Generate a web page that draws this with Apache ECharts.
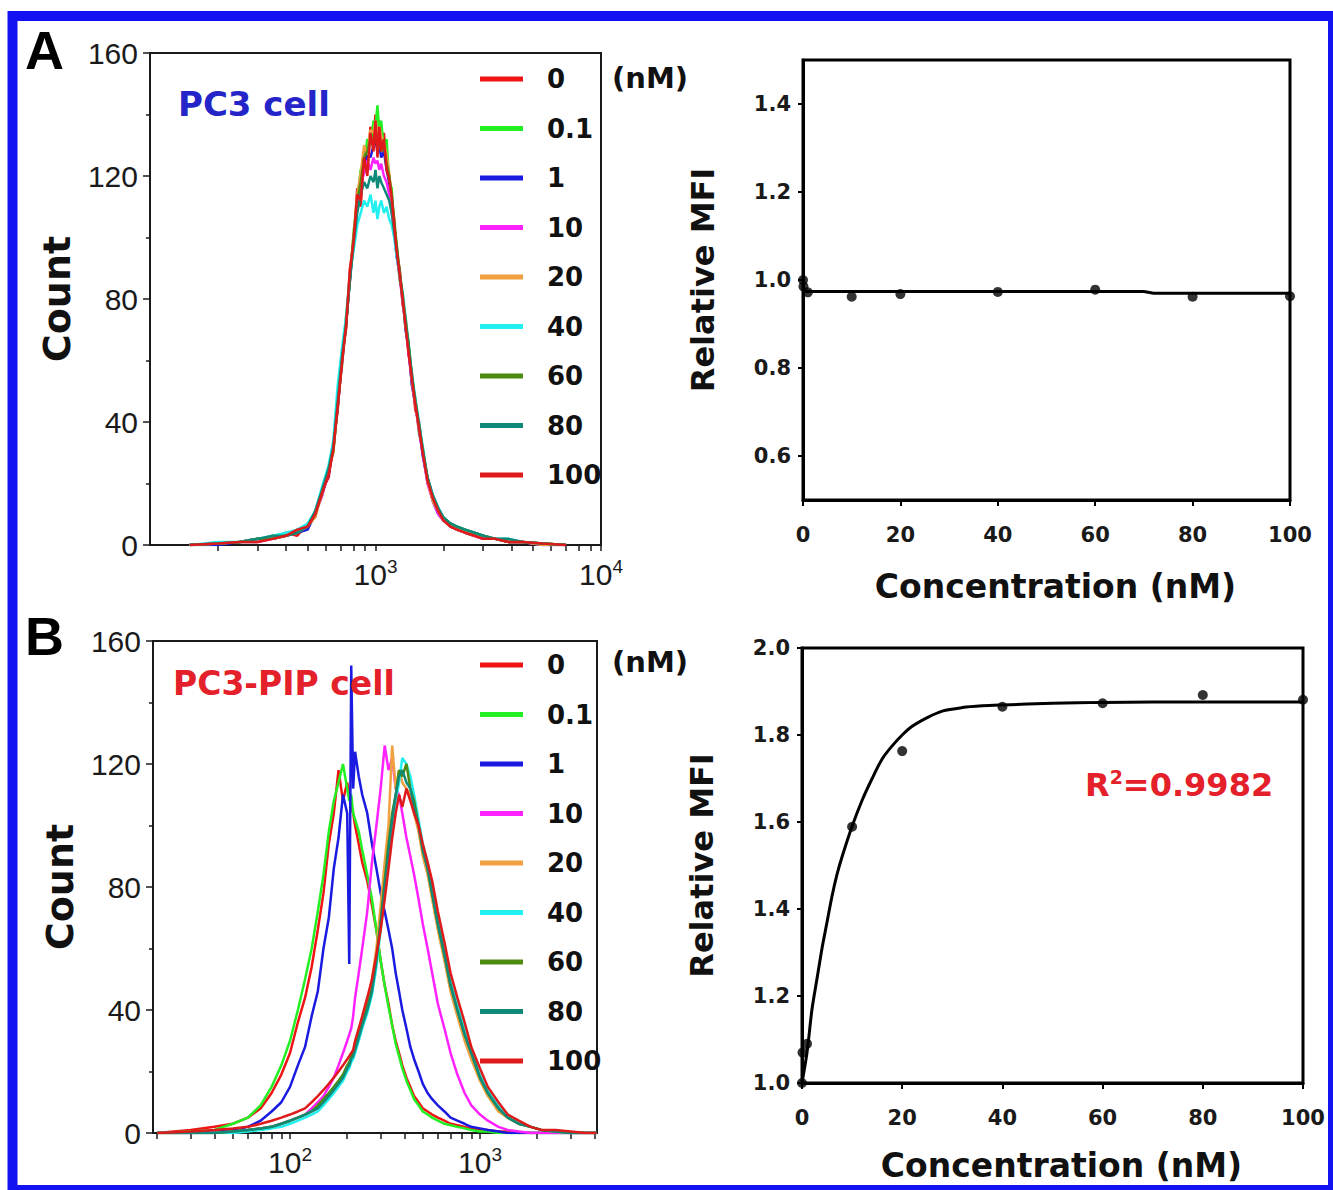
<!DOCTYPE html>
<html><head><meta charset="utf-8">
<script src="https://cdn.jsdelivr.net/npm/echarts@6/dist/echarts.min.js"></script>
<style>html,body{margin:0;padding:0;background:#fff}#c{width:1333px;height:1190px}</style>
</head><body><div id="c"></div>
<script>
// ---------- data ----------
const concLabels = ['0', '0.1', '1', '10', '20', '40', '60', '80', '100'];
const lineColors = ['#f01414', '#22f022', '#1a1ae0', '#ff22ff', '#f0a040', '#22f0f0', '#4c8a10', '#108a78', '#de1a1a'];

// Panel A histogram (PC3 cell), fluorescence channel (log scale) vs count
const histA_x = [150,200,250,300,350,400,450,500,540,580, 620,650,680,710,740,770,800,830,860,890, 920,950,980,1000,1020,1040,1060,1090,1120,1150, 1180,1210,1240,1280,1320,1360,1400,1450,1500,1560, 1620,1700,1800,1900,2000,2150,2300,2500,2750,3000, 3400,3900,4500,5500,7000];
const histA_0nM   = [0,0.5,1,2,2,4,3,7,9,18, 22,33,44,62,70,90,98,116,110,128, 124,136,132,140,128,138,130,134,124,120, 112,106,94,90,78,74,62,56,44,40, 30,22,15,11,8,6,5,4,3,2, 2,1,1,0.5,0];
const histA_01nM  = [0,0.5,1,1,3,3,5,6,11,16, 25,30,47,58,74,86,102,112,122,124, 132,130,138,136,143,134,138,128,132,118, 116,102,98,86,82,70,66,52,48,36, 32,20,16,10,9,6,6,4,3,3, 2,1,1,0.5,0];
const histA_1nM   = [0,0,1,2,2,3,4,5,10,17, 23,32,45,60,72,86,100,110,118,122, 128,126,130,132,128,130,126,128,122,118, 110,104,94,88,80,70,64,52,46,38, 29,21,14,10,8,6,5,4,3,3, 2,1,1,0,0];
const histA_10nM  = [0,0.5,1,1,2,3,4,6,10,16, 24,31,46,59,72,88,99,110,117,121, 125,122,126,124,125,122,124,120,118,114, 108,102,95,87,79,72,63,53,46,37, 30,20,14,10,8,6,5,4,3,2, 2,1,1,0,0];
const histA_20nM  = [0,0.5,1,2,2,3,4,6,9,17, 25,30,46,61,73,88,101,114,121,130, 127,135,134,138,132,136,133,131,127,121, 113,104,97,88,80,71,65,54,46,38, 31,21,14,11,8,6,5,4,3,3, 2,1,1,0,0];
const histA_40nM  = [0,1,1,2,3,4,5,7,11,19, 26,34,52,64,74,88,96,104,108,112, 110,114,108,112,106,110,112,108,110,106, 104,100,94,88,82,74,66,56,48,40, 32,22,16,12,9,7,6,5,4,3, 2,2,1,0.5,0];
const histA_60nM  = [0,0.5,1,2,2,3,4,6,10,17, 24,31,45,60,71,87,100,112,118,126, 128,132,130,134,130,132,128,130,124,120, 114,106,98,89,81,73,66,55,47,39, 31,22,15,11,9,7,6,5,4,3, 2,1,1,0.5,0];
const histA_80nM  = [0,0.5,1,2,3,3,4,6,11,18, 25,32,47,61,72,86,98,108,114,118, 116,120,118,122,116,120,118,116,114,112, 108,102,96,88,80,72,65,55,47,39, 31,22,16,12,9,7,6,5,4,3, 2,2,1,0.5,0];
const histA_100nM = [0,0.5,1,1,2,3,5,6,10,17, 23,31,45,59,71,89,99,114,112,126, 120,134,128,138,126,136,128,132,122,119, 113,104,96,88,80,71,63,54,46,38, 30,21,15,11,8,6,5,4,3,2, 2,1,1,0.5,0];

// Panel B histogram (PC3-PIP cell)
const histB_x = [20,30,40,50,60,70,80,90,100,110, 120,130,140,150,160,170,180,190,200,205, 210,215,220,230,240,255,270,285,300,315, 330,345,360,375,390,410,430,450,475,500, 530,560,600,650,700,760,830,900,1000,1100, 1250,1400,1600,1850,2100,2500,3000,3600,4100];
const histB_0nM   = [0,1,2,3,5,8,13,19,26,36, 44,54,66,78,94,104,118,108,114,110, 106,104,100,94,88,82,74,66,56,48, 42,35,30,26,22,18,15,12,10,8, 7,6,5,4,3,2.5,2,1.5,1,1, 0.5,0.5,0,0,0,0,0,0,0];
const histB_01nM  = [0,0.5,1,3,5,9,15,22,30,40, 50,60,72,84,98,108,114,120,112,108, 110,104,102,98,92,84,76,66,56,48, 41,35,29,25,21,17,14,11,9,7, 6,5,4,3,2.5,2,1.5,1,0.5,0.5, 0,0,0,0,0,0,0,0,0];
const histB_1nM   = [0,0,0.5,1,2,4,7,10,15,22, 28,38,46,60,70,86,96,110,104,55, 152,112,124,116,110,104,94,86,78,72, 66,60,52,46,40,34,28,24,20,16, 13,11,9,7,5,4,3,2,1.5,1, 0.5,0,0,0,0,0,0,0,0];
const histB_10nM  = [0,0,0,0.5,1,1.5,2,3,4,5, 6,8,10,12,15,18,22,26,30,32, 34,38,44,52,60,72,88,100,112,126, 118,122,112,110,104,96,90,84,76,68, 60,52,42,34,26,19,13,9,6,4, 2,1,0.5,0,0,0,0,0,0];
const histB_20nM  = [0,0,0,0.5,1,1.5,2,3,4,5, 6,7,8,10,12,14,16,18,21,22, 24,25,27,31,36,42,50,60,74,88, 100,126,112,118,114,112,110,104,98,90, 84,76,66,56,46,38,30,24,17,12, 7,5,3,2,1,0.5,0,0,0];
const histB_40nM  = [0,0,0,0,0.5,1,1.5,2,3,4, 5,6,7,9,11,13,15,17,20,21, 23,24,26,30,34,39,45,54,66,78, 90,100,108,114,122,120,116,110,102,94, 88,80,70,60,50,42,34,27,19,14, 9,6,3,2,1,0.5,0,0,0];
const histB_60nM  = [0,0,0,0.5,1,1.5,2,3,4,5, 6,7,9,11,13,15,17,19,22,23, 25,26,28,32,36,41,47,57,69,82, 94,104,110,118,116,120,112,108,100,92, 86,78,68,58,48,40,32,26,18,13, 8,5,3,2,1,0.5,0,0,0];
const histB_80nM  = [0,0,0,0.5,1,1.5,2,3,4,5, 6,7,8,10,12,14,16,18,21,22, 24,25,27,31,35,40,46,56,68,80, 92,102,110,116,118,114,112,106,100,92, 86,78,68,58,48,40,32,26,18,13, 8,5,3,2,1,0.5,0,0,0];
const histB_100nM = [0,0.5,1,1.5,2,3,4,5,6,7, 8,10,12,14,16,18,20,22,24,25, 26,27,30,34,38,44,50,58,66,76, 86,96,104,110,106,112,108,104,100,94, 88,82,72,62,52,44,36,28,21,15, 10,6,4,2,1,1,0.5,0,0];

// Relative MFI vs concentration
const mfiConc = [0, 0.1, 1, 10, 20, 40, 60, 80, 100];
const mfiA = [1.0, 0.985, 0.972, 0.962, 0.968, 0.973, 0.978, 0.962, 0.963];
const mfiB = [1.0, 1.07, 1.09, 1.589, 1.763, 1.865, 1.873, 1.892, 1.881];
const fitA_x = [0, 70, 72, 100];
const fitA_y = [0.974, 0.974, 0.970, 0.970];
const fitB_x = [0, 1, 2, 3, 4, 5, 6, 7, 8, 10, 12, 14, 16, 18, 20, 22, 25, 28, 32, 36, 40, 50, 60, 80, 100];
const fitB_y = [1.0, 1.07, 1.17, 1.24, 1.31, 1.37, 1.43, 1.48, 1.52, 1.59, 1.65, 1.70, 1.745, 1.775, 1.80, 1.82, 1.84, 1.855, 1.863, 1.867, 1.869, 1.873, 1.875, 1.876, 1.876];

// tick values / labels
const histA_ticks = [200,300,400,500,600,700,800,900,1000,2000,3000,4000,5000,6000,7000,8000,9000,10000];
const histA_labels = [1000, 10000];
const histB_ticks = [20,30,40,50,60,70,80,90,100,200,300,400,500,600,700,800,900,1000,2000,3000,4000];
const histB_labels = [100, 1000];
const mfiA_yTicks = [0.6, 0.8, 1.0, 1.2, 1.4];

// ---------- chart ----------
const histA = [histA_0nM, histA_01nM, histA_1nM, histA_10nM, histA_20nM, histA_40nM, histA_60nM, histA_80nM, histA_100nM];
const histB = [histB_0nM, histB_01nM, histB_1nM, histB_10nM, histB_20nM, histB_40nM, histB_60nM, histB_80nM, histB_100nM];

const BOLD = 'DejaVu Sans';
const REG = 'Liberation Sans';
const INK = '#1a1a1a';

function histSeries(xs, sets, axisIdx) {
  return sets.map((ys, i) => ({
    type: 'line', name: concLabels[i], xAxisIndex: axisIdx, yAxisIndex: axisIdx,
    data: xs.map((x, j) => [x, ys[j]]),
    showSymbol: false, smooth: false, silent: true,
    lineStyle: { width: 2.5, color: lineColors[i] }, itemStyle: { color: lineColors[i] },
    emphasis: { disabled: true }, z: 3 + i
  }));
}

const supFmt = v => '{b|10}{s|' + Math.round(Math.log10(v)) + '}';
const supRich = {
  b: { fontFamily: REG, fontSize: 30, color: INK, lineHeight: 34 },
  s: { fontFamily: REG, fontSize: 19, color: INK, lineHeight: 20, verticalAlign: 'top' }
};

function logX(grid, min, max, ticks, labels) {
  return {
    type: 'log', logBase: 10, gridIndex: grid, min: min, max: max,
    axisLine: { show: true, lineStyle: { color: INK, width: 2 } },
    axisTick: { show: true, inside: false, length: 6, customValues: ticks, lineStyle: { color: INK, width: 1.5 } },
    axisLabel: { show: true, customValues: labels, formatter: supFmt, margin: 12, rich: supRich, showMinLabel: true, showMaxLabel: true },
    splitLine: { show: false }, minorTick: { show: false }
  };
}
function countY(grid) {
  return {
    type: 'value', gridIndex: grid, min: 0, max: 160, interval: 40,
    axisLine: { show: true, lineStyle: { color: INK, width: 2 } },
    axisTick: { show: true, length: 7, lineStyle: { color: INK, width: 1.5 } },
    minorTick: { show: true, splitNumber: 2, length: 4, lineStyle: { color: INK, width: 1.5 } },
    axisLabel: { fontFamily: REG, fontSize: 30, color: INK, margin: 12 },
    splitLine: { show: false },
    name: 'Count', nameLocation: 'middle', nameGap: 74,
    nameTextStyle: { fontFamily: BOLD, fontWeight: 'bold', fontSize: 38, color: '#111' }
  };
}
function concX(grid, nameGap) {
  return {
    type: 'value', gridIndex: grid, min: 0, max: 100, interval: 20,
    axisLine: { show: true, lineStyle: { color: '#000', width: 3 } },
    axisTick: { show: true, length: 6, lineStyle: { color: '#000', width: 2 } },
    axisLabel: { fontFamily: BOLD, fontWeight: 'bold', fontSize: 21, color: INK, margin: 24 },
    splitLine: { show: false },
    name: 'Concentration (nM)', nameLocation: 'middle', nameGap: nameGap,
    nameTextStyle: { fontFamily: BOLD, fontWeight: 'bold', fontSize: 33, color: '#111', padding: [0, 0, 0, 18] }
  };
}
function mfiY(grid, cfg) {
  return Object.assign({
    type: 'value', gridIndex: grid,
    axisLine: { show: true, lineStyle: { color: '#000', width: 3 } },
    axisTick: { show: true, length: 5, lineStyle: { color: '#000', width: 2 } },
    axisLabel: { fontFamily: BOLD, fontWeight: 'bold', fontSize: 21, color: INK, margin: 12, formatter: v => v.toFixed(1) },
    splitLine: { show: false },
    name: 'Relative MFI', nameLocation: 'middle', nameGap: 84,
    nameTextStyle: { fontFamily: BOLD, fontWeight: 'bold', fontSize: 32, color: '#111' }
  }, cfg);
}
function legendAt(top) {
  return {
    data: concLabels, orient: 'vertical', left: 480, top: top, padding: 0,
    itemWidth: 43, itemHeight: 5, itemGap: 19.5, icon: 'rect', selectedMode: false,
    textStyle: { fontFamily: BOLD, fontWeight: 'bold', fontSize: 26, color: '#111', lineHeight: 30, padding: [0, 0, 0, 19] }
  };
}
function txt(text, x, y, size, color, family, align, weight) {
  return { type: 'text', x: x, y: y, z: 50, silent: true,
    style: { text: text, fill: color, fontFamily: family, fontSize: size, fontWeight: weight || 'bold',
      align: align || 'left', verticalAlign: 'middle' } };
}

const option = {
  animation: false,
  backgroundColor: '#ffffff',
  grid: [
    { left: 150, top: 53, width: 451, height: 492, show: true, borderColor: INK, borderWidth: 2, backgroundColor: 'transparent' },
    { left: 803, top: 60, width: 487, height: 440, show: true, borderColor: '#000', borderWidth: 3, backgroundColor: 'transparent' },
    { left: 153, top: 641, width: 444, height: 492, show: true, borderColor: INK, borderWidth: 2, backgroundColor: 'transparent' },
    { left: 802, top: 648, width: 501, height: 435, show: true, borderColor: '#000', borderWidth: 3, backgroundColor: 'transparent' }
  ],
  xAxis: [
    logX(0, 100, 10000, histA_ticks, histA_labels),
    concX(1, 70),
    logX(2, 19, 4130, histB_ticks, histB_labels),
    concX(3, 66)
  ],
  yAxis: [
    countY(0),
    mfiY(1, { min: 0.5, max: 1.5, interval: 0.1,
      axisTick: { show: true, length: 5, customValues: mfiA_yTicks, lineStyle: { color: '#000', width: 2 } },
      axisLabel: { fontFamily: BOLD, fontWeight: 'bold', fontSize: 21, color: INK, margin: 12, customValues: mfiA_yTicks, formatter: v => v.toFixed(1) } }),
    countY(2),
    mfiY(3, { min: 1.0, max: 2.0, interval: 0.2 })
  ],
  legend: [legendAt(64), legendAt(650)],
  series: [].concat(
    histSeries(histA_x, histA, 0),
    histSeries(histB_x, histB, 2),
    [
      { type: 'line', name: 'fitA', xAxisIndex: 1, yAxisIndex: 1, data: fitA_x.map((x, i) => [x, fitA_y[i]]),
        showSymbol: false, lineStyle: { color: '#000', width: 3 }, silent: true, z: 5 },
      { type: 'scatter', name: 'MFI A', xAxisIndex: 1, yAxisIndex: 1, data: mfiConc.map((x, i) => [x, mfiA[i]]),
        symbol: 'circle', symbolSize: 10, itemStyle: { color: '#000' }, silent: true, z: 6 },
      { type: 'line', name: 'fitB', xAxisIndex: 3, yAxisIndex: 3, data: fitB_x.map((x, i) => [x, fitB_y[i]]),
        showSymbol: false, smooth: 0.3, lineStyle: { color: '#000', width: 3 }, silent: true, z: 5 },
      { type: 'scatter', name: 'MFI B', xAxisIndex: 3, yAxisIndex: 3, data: mfiConc.map((x, i) => [x, mfiB[i]]),
        symbol: 'circle', symbolSize: 10, itemStyle: { color: '#000' }, silent: true, z: 6 }
    ]
  ),
  graphic: [
    { type: 'rect', z: 100, silent: true, shape: { x: 12.5, y: 16, width: 1320.5, height: 1174 },
      style: { fill: 'none', stroke: '#1212f2', lineWidth: 10 } },
    txt('A', 25, 50, 54, '#000', REG),
    txt('B', 25, 636, 54, '#000', REG),
    txt('PC3 cell', 178, 104, 34, '#2424c8', BOLD),
    txt('PC3-PIP cell', 173, 683, 33, '#e4202a', BOLD),
    txt('(nM)', 612, 78, 29, '#111', BOLD),
    txt('(nM)', 612, 662, 29, '#111', BOLD),
    { type: 'text', x: 1085, y: 785, z: 50, silent: true,
      style: { text: '{r|R}{s|2}{r|=0.9982}', verticalAlign: 'middle', align: 'left',
        rich: {
          r: { fontFamily: BOLD, fontWeight: 'bold', fontSize: 32, fill: '#e4202a', lineHeight: 36 },
          s: { fontFamily: BOLD, fontWeight: 'bold', fontSize: 19, fill: '#e4202a', lineHeight: 20, verticalAlign: 'top' }
        } } }
  ]
};

const chart = echarts.init(document.getElementById('c'), null, { renderer: 'svg', width: 1333, height: 1190 });
chart.setOption(option);
</script>
</body></html>
